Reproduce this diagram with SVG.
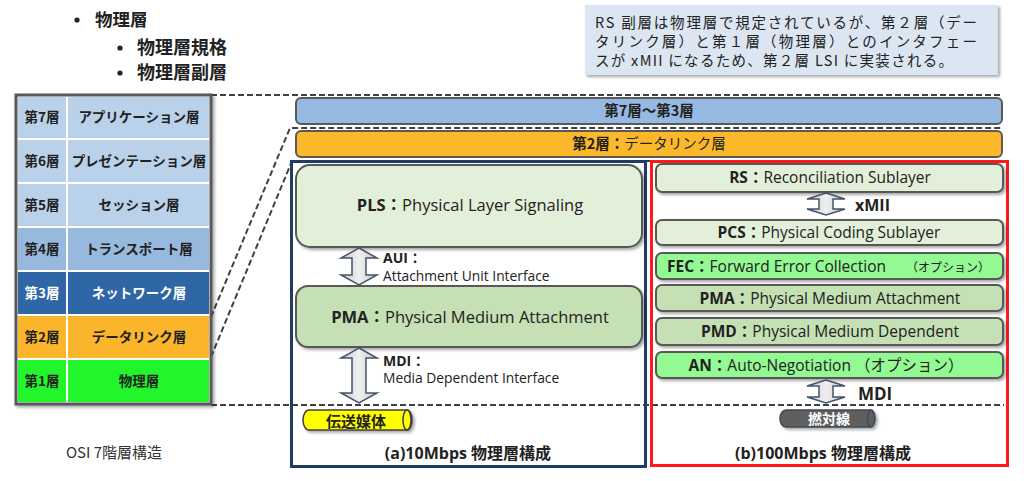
<svg xmlns="http://www.w3.org/2000/svg" width="1024" height="481" viewBox="0 0 1024 481">
<defs>
<filter id="sh" x="-10%" y="-10%" width="130%" height="140%"><feDropShadow dx="2" dy="2" stdDeviation="1.5" flood-color="#000" flood-opacity="0.35"/></filter>
<linearGradient id="ag" x1="0" y1="0" x2="1" y2="0"><stop offset="0" stop-color="#c8c8c8"/><stop offset="0.5" stop-color="#f0f0f0"/><stop offset="1" stop-color="#c8c8c8"/></linearGradient>
</defs>
<style>
text{font-family:"Open Sans","Noto Sans CJK JP",sans-serif;fill:#222}
.jp{font-family:"Noto Sans CJK JP",sans-serif}
.b{font-weight:bold}
.c{text-anchor:middle}
.bar{stroke:#595959;stroke-width:2}
.box{stroke:#595959;stroke-width:2}
.lg{fill:#e2efd9}
.mg{fill:#c5e0b4}
.bg{fill:#93f993}
.dash{fill:none;stroke:#404040;stroke-width:2;stroke-dasharray:6 3}
.arr{fill:url(#ag);stroke:#44546a;stroke-width:1.5}
.t7{fill:#bad1ea}
.cell{font-family:"Noto Sans CJK JP",sans-serif;font-weight:bold;font-size:13.5px;text-anchor:middle}
</style>

<g id="bullets">
<circle cx="77" cy="20" r="2.6" fill="#222"/>
<text x="95" y="26" font-size="17.5" font-weight="600" class="jp">物理層</text>
<circle cx="120" cy="48" r="2.6" fill="#222"/>
<text x="137" y="54" font-size="18" font-weight="600" class="jp">物理層規格</text>
<circle cx="120" cy="73" r="2.6" fill="#222"/>
<text x="137" y="79" font-size="18" font-weight="600" class="jp">物理層副層</text>
</g>

<g id="note">
<rect x="585" y="5" width="413" height="70" fill="#dce6f2" filter="url(#sh)"/>
<text x="595" y="28" font-size="14.5" textLength="382" class="jp">RS 副層は物理層で規定されているが、第２層（デー</text>
<text x="595" y="47" font-size="14.5" textLength="382" class="jp">タリンク層）と第１層（物理層）とのインタフェー</text>
<text x="595" y="66" font-size="14.5" textLength="358" class="jp">スが xMII になるため、第２層 LSI に実装される。</text>
</g>

<g id="connectors">
<path class="dash" d="M211,95 H1003"/>
<path class="dash" d="M211,317 L290,128 H1003"/>
<path class="dash" d="M211,357 L292,161 H1004"/>
<path class="dash" d="M211,405 H1004"/>
</g>

<g id="osi" filter="url(#sh)">
<rect x="16" y="95" width="195" height="309" fill="#fff" stroke="#595959" stroke-width="3"/>
<rect x="18" y="97" width="48" height="41" class="t7"/><rect x="68" y="97" width="141" height="41" class="t7"/>
<rect x="18" y="140" width="48" height="42" class="t7"/><rect x="68" y="140" width="141" height="42" class="t7"/>
<rect x="18" y="184" width="48" height="42" class="t7"/><rect x="68" y="184" width="141" height="42" class="t7"/>
<rect x="18" y="228" width="48" height="42" fill="#98b9de"/><rect x="68" y="228" width="141" height="42" fill="#98b9de"/>
<rect x="18" y="272" width="48" height="42" fill="#2e66a6"/><rect x="68" y="272" width="141" height="42" fill="#2e66a6"/>
<rect x="18" y="316" width="48" height="42" fill="#fbb52b"/><rect x="68" y="316" width="141" height="42" fill="#fbb52b"/>
<rect x="18" y="360" width="48" height="42" fill="#22f529"/><rect x="68" y="360" width="141" height="42" fill="#22f529"/>
</g>
<g id="osi-text">
<text x="42" y="122" class="cell">第7層</text><text x="139" y="122" class="cell">アプリケーション層</text>
<text x="42" y="166" class="cell">第6層</text><text x="139" y="166" class="cell">プレゼンテーション層</text>
<text x="42" y="210" class="cell">第5層</text><text x="139" y="210" class="cell">セッション層</text>
<text x="42" y="254" class="cell">第4層</text><text x="139" y="254" class="cell">トランスポート層</text>
<text x="42" y="298" class="cell" style="fill:#fff">第3層</text><text x="139" y="298" class="cell" style="fill:#fff">ネットワーク層</text>
<text x="42" y="342" class="cell">第2層</text><text x="139" y="342" class="cell">データリンク層</text>
<text x="42" y="386" class="cell">第1層</text><text x="139" y="386" class="cell">物理層</text>
</g>
<text x="114" y="458" font-size="15" class="c jp" style="fill:#333">OSI 7階層構造</text>

<g id="bar73">
<rect x="296" y="98" width="706" height="26" rx="5" fill="#95b9e0" class="bar"/>
<text x="649" y="116" font-size="14.5" class="c b jp">第7層～第3層</text>
</g>
<g id="bar2">
<rect x="296" y="131" width="706" height="26" rx="5" fill="#fbb82b" class="bar"/>
<text x="649" y="149" font-size="14.5" class="c jp"><tspan font-weight="bold">第2層：</tspan>データリンク層</text>
</g>

<g id="frameA"><rect x="291.5" y="161.5" width="354" height="305" fill="none" stroke="#1f3d64" stroke-width="3"/></g>
<g id="frameB"><rect x="651.5" y="161.5" width="356" height="304" fill="none" stroke="#ff1a1a" stroke-width="3"/></g>

<g id="pls">
<rect x="296" y="165" width="346" height="82" rx="14" class="box lg" filter="url(#sh)"/>
<text x="470" y="211" font-size="16.5" class="c"><tspan class="b">PLS：</tspan>Physical Layer Signaling</text>
</g>
<g id="aui">
<path class="arr" d="M359,248 L377,258 L366,258 L366,275 L377,275 L359,285 L341,275 L352,275 L352,258 L341,258 Z"/>
<text x="383" y="263" font-size="14" class="b">AUI：</text>
<text x="383" y="281" font-size="13.8">Attachment Unit Interface</text>
</g>
<g id="pmaA">
<rect x="296" y="286" width="346" height="61" rx="12" class="box mg" filter="url(#sh)"/>
<text x="470" y="323" font-size="16.5" class="c"><tspan class="b">PMA：</tspan>Physical Medium Attachment</text>
</g>
<g id="mdiA">
<path class="arr" d="M359,348 L377,358 L366,358 L366,393 L377,393 L359,403 L341,393 L352,393 L352,358 L341,358 Z"/>
<text x="383" y="366" font-size="14" class="b">MDI：</text>
<text x="383" y="383" font-size="13.8">Media Dependent Interface</text>
</g>
<g id="medium" filter="url(#sh)">
<path d="M309,410 H407 A5,10 0 0 1 407,430 H309 A6,10 0 0 1 309,410 Z" fill="#ffff00" stroke="#404040" stroke-width="1.5"/>
<ellipse cx="407" cy="420" rx="4" ry="10" fill="#ffff00" stroke="#404040" stroke-width="1.5"/>
</g>
<text x="356" y="427" font-size="15" class="c b jp">伝送媒体</text>
<text x="468" y="459" font-size="16" class="c b">(a)10Mbps 物理層構成</text>

<g id="rs">
<rect x="656" y="164" width="347" height="28" rx="6" class="box lg" filter="url(#sh)"/>
<text x="830" y="183" font-size="15.5" class="c"><tspan class="b">RS：</tspan>Reconciliation Sublayer</text>
</g>
<g id="xmii">
<path class="arr" d="M826,193 L845,199 L833,199 L833,209 L845,209 L826,215 L807,209 L819,209 L819,199 L807,199 Z"/>
<text x="855" y="211" font-size="16" class="b">xMII</text>
</g>
<g id="pcs">
<rect x="656" y="220" width="347" height="25" rx="6" class="box lg" filter="url(#sh)"/>
<text x="829" y="238" font-size="15.5" class="c"><tspan class="b">PCS：</tspan>Physical Coding Sublayer</text>
</g>
<g id="fec">
<rect x="656" y="253" width="347" height="26" rx="6" class="box bg" filter="url(#sh)"/>
<text x="667" y="272" font-size="15.5"><tspan class="b">FEC：</tspan>Forward Error Collection<tspan x="906" font-size="12" class="jp">（オプション）</tspan></text>
</g>
<g id="pmaB">
<rect x="656" y="285" width="347" height="26" rx="6" class="box mg" filter="url(#sh)"/>
<text x="830" y="304" font-size="15.5" class="c"><tspan class="b">PMA：</tspan>Physical Medium Attachment</text>
</g>
<g id="pmd">
<rect x="656" y="318" width="347" height="27" rx="6" class="box mg" filter="url(#sh)"/>
<text x="830" y="337" font-size="15.5" class="c"><tspan class="b">PMD：</tspan>Physical Medium Dependent</text>
</g>
<g id="an">
<rect x="656" y="352" width="347" height="26" rx="6" class="box bg" filter="url(#sh)"/>
<text x="826" y="371" font-size="15.5" class="c"><tspan class="b">AN：</tspan>Auto-Negotiation （オプション）</text>
</g>
<g id="mdiB">
<path class="arr" d="M826,380 L845,386 L833,386 L833,397 L845,397 L826,403 L807,397 L819,397 L819,386 L807,386 Z"/>
<text x="858" y="400" font-size="17" class="b">MDI</text>
</g>
<g id="twisted" filter="url(#sh)">
<path d="M786,410 H871 A4,8.5 0 0 1 871,427 H786 A6,8.5 0 0 1 786,410 Z" fill="#5f5f5f" stroke="#404a5a" stroke-width="1.5"/>
<ellipse cx="871" cy="418.5" rx="3.5" ry="8.5" fill="#5f5f5f" stroke="#404a5a" stroke-width="1.5"/>
</g>
<text x="829" y="424" font-size="14" class="c b jp" style="fill:#fff">撚対線</text>
<text x="823" y="459" font-size="16" class="c b">(b)100Mbps 物理層構成</text>
</svg>
